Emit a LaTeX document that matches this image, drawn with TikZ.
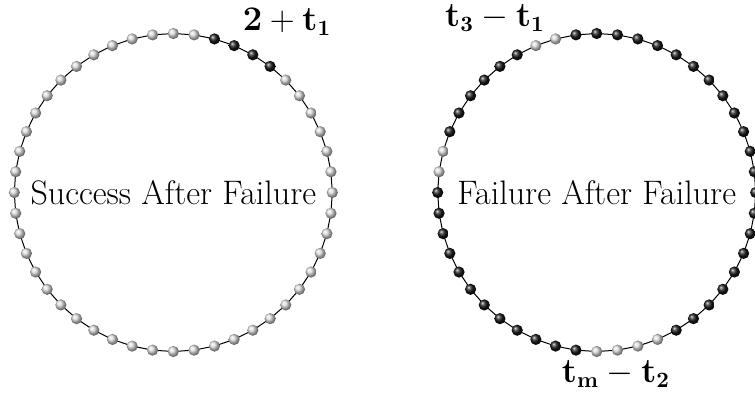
\documentclass[tikz,border=0pt]{standalone}
\begin{document}
\begin{tikzpicture}[x=0.5pt,y=-0.5pt,
  bead/.style={circle,inner sep=0pt,minimum size=5.6pt,shading=ball},
  lite/.style={bead,ball color=gray!28},
  dark/.style={bead,ball color=black!90},
  chain/.style={line width=0.5pt},
  lbl/.style={font=\fontsize{16}{19}\selectfont,anchor=base,inner sep=0pt},
  title/.style={font=\fontsize{17}{19}\selectfont}]
\useasboundingbox (0,0) rectangle (755,393);
\clip (0,0) rectangle (755,393);
% left ring
\foreach \i in {0,...,47}
  \coordinate (A\i) at ({173.3+159*cos(\i*7.5)},{192.5-159*sin(\i*7.5)});
\draw[chain] (A0) \foreach \i in {1,...,47}{ -- (A\i)} -- cycle;
\foreach \i in {0,...,6,11,12,...,47} \node[lite] (a\i) at (A\i) {};
\foreach \i in {7,...,10} \node[dark] (a\i) at (A\i) {};
% right ring
\foreach \i in {0,...,47}
  \coordinate (B\i) at ({596.7+159*cos(\i*7.5)},{192.5-159*sin(\i*7.5)});
\draw[chain] (B0) \foreach \i in {1,...,47}{ -- (B\i)} -- cycle;
\foreach \i in {0,...,13,16,17,...,21,24,25,...,35,40,41,...,47} \node[dark] (b\i) at (B\i) {};
\foreach \i in {14,15,22,23,36,37,38,39} \node[lite] (b\i) at (B\i) {};
% texts
\node[title] (ts) at (173.3,193) {Success After Failure};
\node[title] (tf) at (596.7,193) {Failure After Failure};
\node[lbl] (l1) at (287,30) {$\mathbf{2+t_1}$};
\node[lbl] (l2) at (495,26) {$\mathbf{t_3-t_1}$};
\node[lbl] (l3) at (616,382) {$\mathbf{t_m-t_2}$};
\end{tikzpicture}
\end{document}
